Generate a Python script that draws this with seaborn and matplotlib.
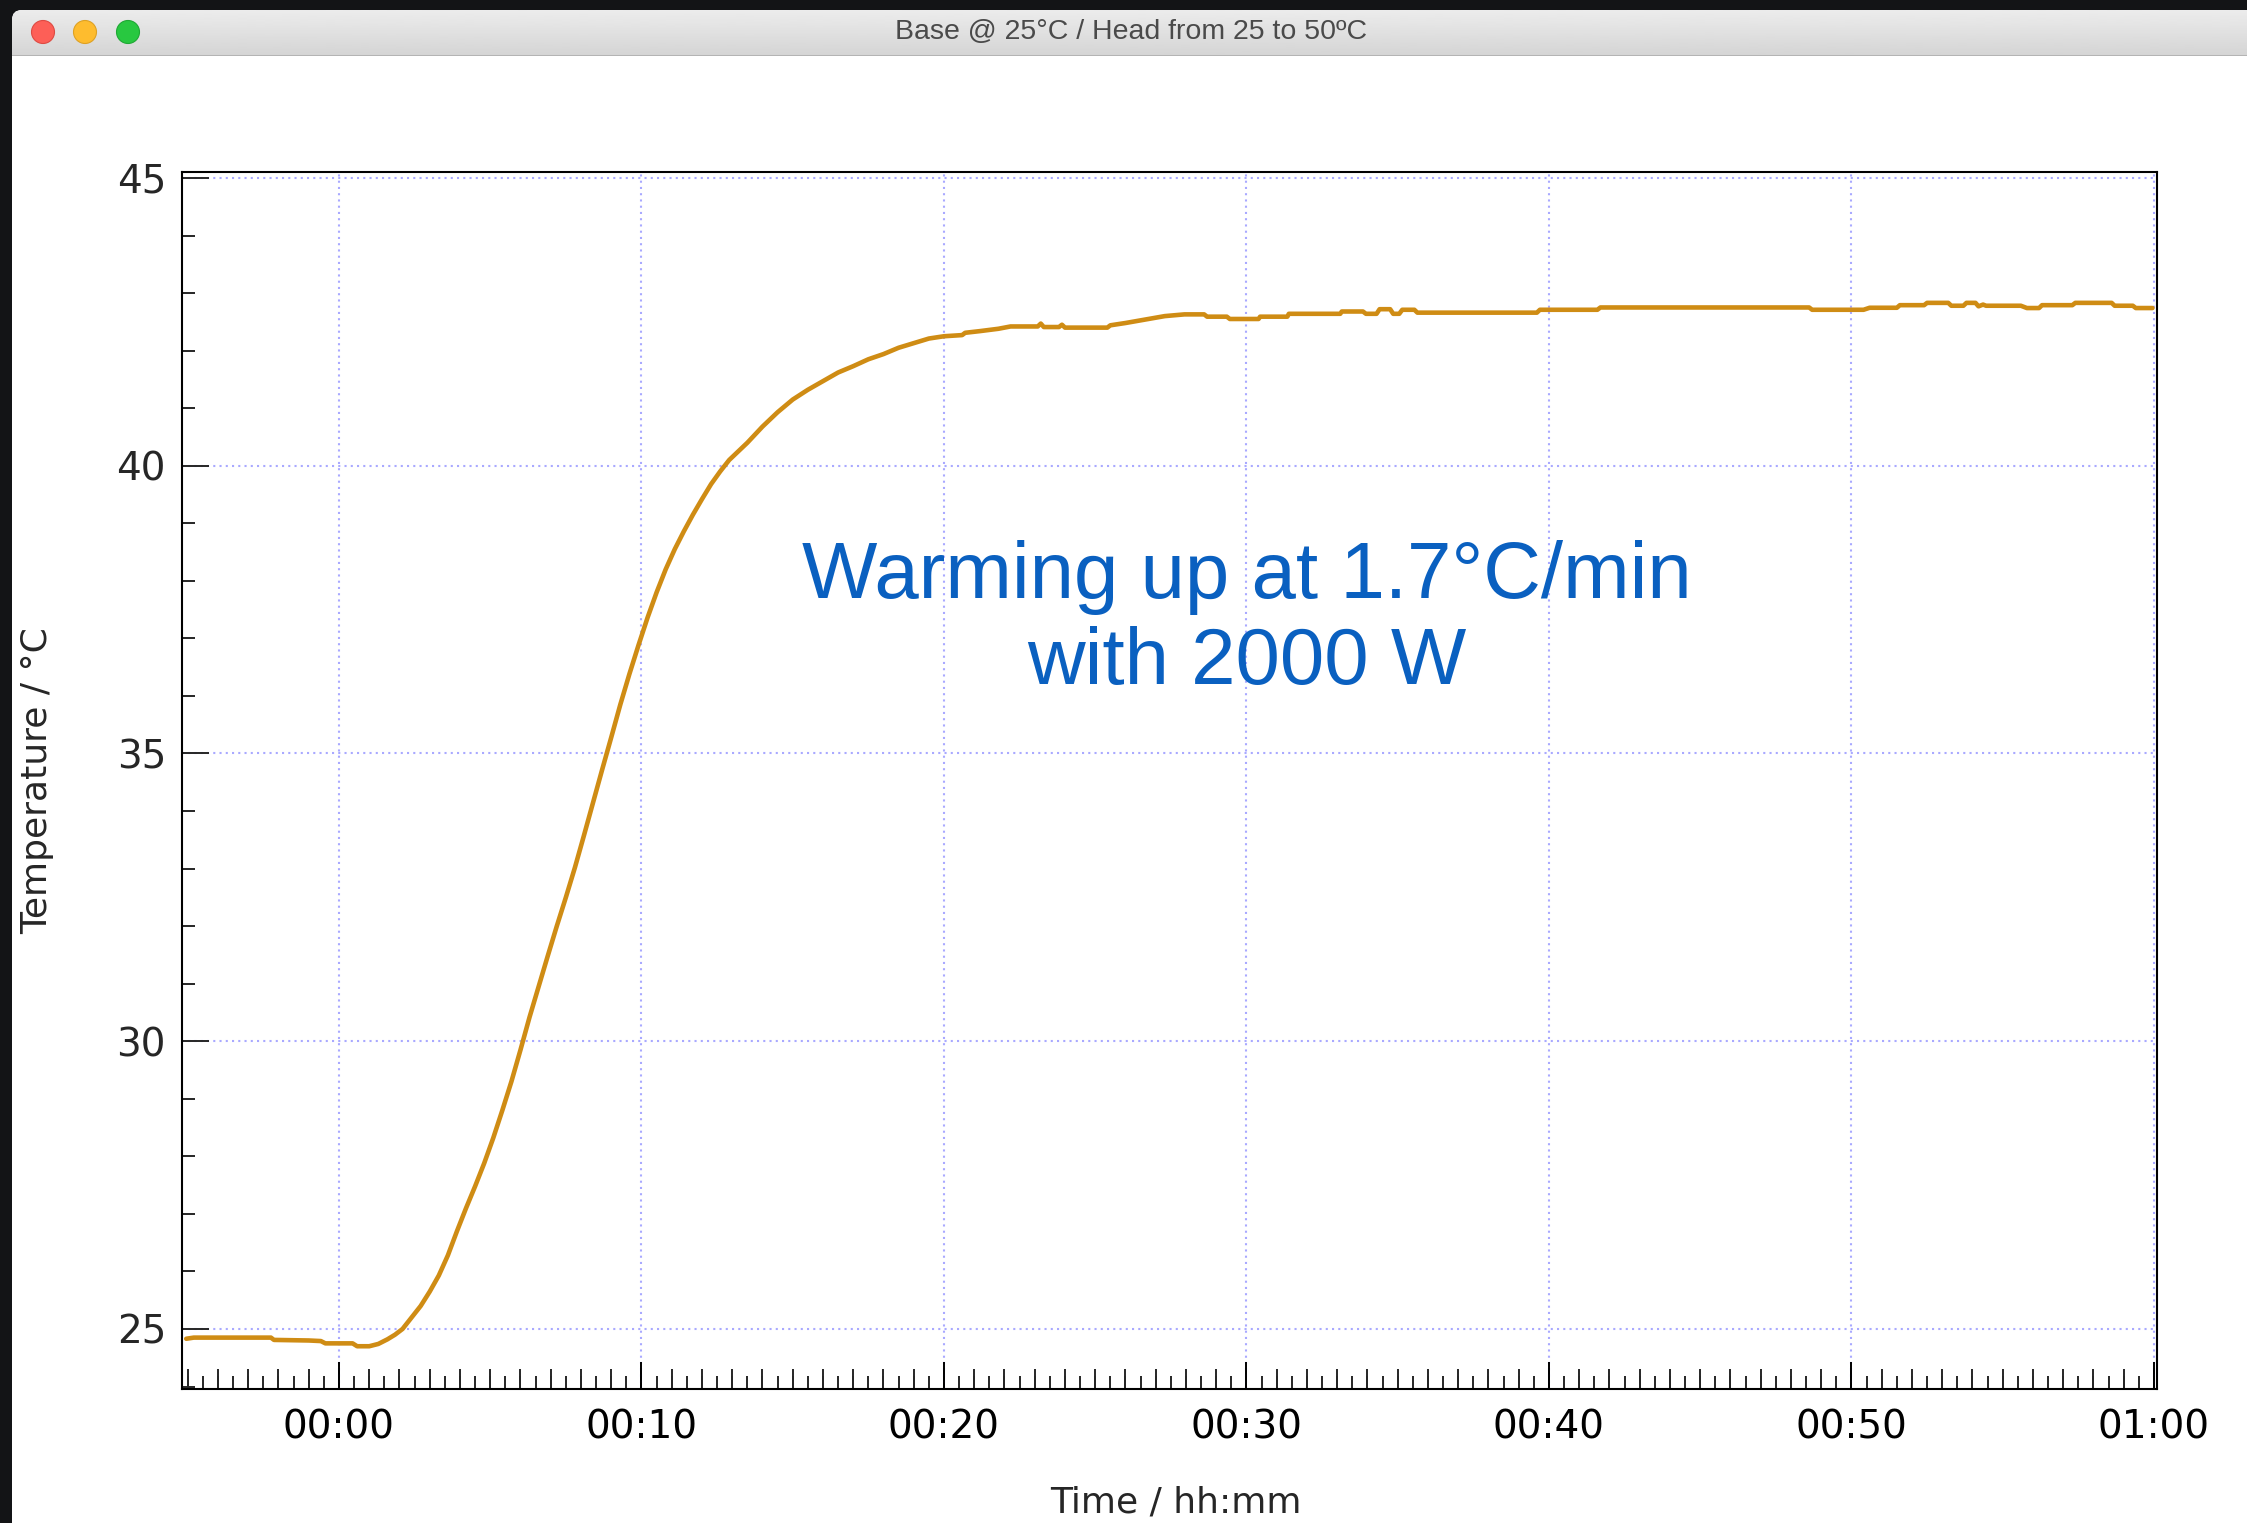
import numpy as np
import pandas as pd
import matplotlib
matplotlib.use("Agg")
import matplotlib.pyplot as plt
import seaborn as sns
from matplotlib.patches import FancyBboxPatch, Circle, Rectangle
from matplotlib.transforms import IdentityTransform
from matplotlib.ticker import MultipleLocator, FuncFormatter, NullFormatter, NullLocator

# ---------------- data (minutes, °C) ----------------
time_min = [-5.05, -4.8, -3.5, -2.25, -2.15, -1.0, -0.6, -0.45, 0.45, 0.6,
            1.0, 1.3, 1.6, 1.85, 2.1, 2.4, 2.7, 3.0, 3.3, 3.6,
            3.9, 4.2, 4.5, 4.8, 5.1, 5.4, 5.7, 6.0, 6.3, 6.6,
            6.9, 7.2, 7.5, 7.8, 8.1, 8.4, 8.7, 9.0, 9.3, 9.6,
            9.9, 10.2, 10.5, 10.8, 11.1, 11.4, 11.7, 12.0, 12.3, 12.6,
            12.9, 13.2, 13.5, 14.0, 14.5, 15.0, 15.5, 16.0, 16.5, 17.0,
            17.5, 18.0, 18.5, 19.0, 19.5, 20.0, 20.6, 20.7, 21.2, 21.8,
            22.2, 23.1, 23.2, 23.3, 23.8, 23.9, 24.0, 25.4, 25.5, 26.0,
            26.55, 27.1, 27.3, 27.95, 28.6, 28.7, 29.35, 29.45, 30.4, 30.45,
            31.35, 31.4, 33.1, 33.15, 33.85, 33.95, 34.3, 34.4, 34.75, 34.85,
            35.05, 35.15, 35.55, 35.65, 39.6, 39.7, 41.6, 41.7, 48.6, 48.7,
            50.4, 50.6, 51.5, 51.6, 52.4, 52.5, 53.2,
            53.3, 53.7, 53.8, 54.1, 54.2, 54.35, 54.45, 55.6, 55.8, 56.2,
            56.3, 57.3, 57.4, 58.6, 58.7, 59.3, 59.4, 59.95]
temp_c = [24.83, 24.85, 24.85, 24.85, 24.81, 24.80, 24.79, 24.75, 24.75, 24.70,
          24.70, 24.74, 24.82, 24.90, 25.00, 25.20, 25.40, 25.65, 25.93, 26.28,
          26.70, 27.10, 27.48, 27.88, 28.32, 28.80, 29.30, 29.85, 30.42, 30.95,
          31.48, 32.00, 32.50, 33.02, 33.58, 34.15, 34.72, 35.28, 35.85, 36.38,
          36.88, 37.36, 37.80, 38.20, 38.55, 38.86, 39.15, 39.42, 39.68, 39.90,
          40.10, 40.25, 40.40, 40.68, 40.93, 41.15, 41.32, 41.47, 41.62, 41.73,
          41.85, 41.94, 42.05, 42.13, 42.21, 42.25, 42.27, 42.31, 42.34, 42.38,
          42.42, 42.42, 42.47, 42.41, 42.41, 42.45, 42.40, 42.40, 42.44, 42.48,
          42.53, 42.58, 42.60, 42.63, 42.63, 42.59, 42.59, 42.55, 42.55, 42.59,
          42.59, 42.64, 42.64, 42.68, 42.68, 42.64, 42.64, 42.72, 42.72, 42.64,
          42.64, 42.71, 42.71, 42.66, 42.66, 42.71, 42.71, 42.75, 42.75, 42.71,
          42.71, 42.745, 42.745, 42.79, 42.79, 42.83, 42.83,
          42.78, 42.78, 42.83, 42.83, 42.77, 42.80, 42.78, 42.78, 42.74, 42.74,
          42.79, 42.79, 42.83, 42.83, 42.78, 42.78, 42.74, 42.74]

window_title = "Base @ 25°C / Head from 25 to 50ºC"
x_label = "Time / hh:mm"
y_label = "Temperature / °C"
note_text = "Warming up at 1.7°C/min\nwith 2000 W"

df = pd.DataFrame({"time": time_min, "temp": temp_c})

# ---------------- figure / window chrome ----------------
sns.set_style("white")
plt.rcParams["font.family"] = ["DejaVu Sans"]

W, H = 2247, 1523
fig = plt.figure(figsize=(W / 100, H / 100), dpi=100, facecolor="#131416")

ident = IdentityTransform()
win_left, win_top, bar_bottom = 12, 10, 55
window = FancyBboxPatch((win_left, -60), W + 100, H - win_top + 60,
                        boxstyle="round,pad=0,rounding_size=10",
                        transform=ident, facecolor="white", edgecolor="none", zorder=-10)
fig.patches.append(window)

# title bar gradient
bar_ax = fig.add_axes([win_left / W, 1 - bar_bottom / H, 1 - win_left / W, (bar_bottom - win_top) / H])
bar_ax.set_axis_off()
bar_ax.set_zorder(1)
grad = np.linspace(0.925, 0.835, 64).reshape(-1, 1)
im = bar_ax.imshow(grad, cmap="gray", vmin=0, vmax=1, aspect="auto", extent=(0, 1, 0, 1))
clip = FancyBboxPatch((win_left, H - bar_bottom - 20), W + 100, bar_bottom - win_top + 20,
                      boxstyle="round,pad=0,rounding_size=10", transform=ident)
im.set_clip_path(clip)
fig.patches.append(Rectangle((win_left, H - bar_bottom - 1), W, 1.5, transform=ident,
                             facecolor="#b4b4b4", edgecolor="none", zorder=3))

for cx, fc, ec in [(43, "#fd5f57", "#de4a42"), (85, "#febc2e", "#dea123"), (128, "#28c840", "#1fa834")]:
    fig.patches.append(Circle((cx, H - 32), 11.5, transform=ident, facecolor=fc,
                              edgecolor=ec, linewidth=0.8, zorder=4))

fig.text(1131 / W, 1 - 32 / H, window_title, ha="center", va="center",
         fontsize=20.5, color="#4a4a4a", family=["Liberation Sans", "DejaVu Sans"], zorder=5)

# ---------------- plot axes ----------------
ax_l, ax_r, ax_t, ax_b = 182, 2157, 172, 1389
ax = fig.add_axes([ax_l / W, 1 - ax_b / H, (ax_r - ax_l) / W, (ax_b - ax_t) / H])
ax.set_facecolor("white")

sns.lineplot(data=df, x="time", y="temp", ax=ax, color="#cf8c14", linewidth=3.3,
             estimator=None, sort=False, zorder=3)

ax.set_xlim(-5.19, 60.1)
ax.set_ylim(23.957, 45.104)

ax.xaxis.set_major_locator(MultipleLocator(10))
ax.xaxis.set_minor_locator(MultipleLocator(0.5))
ax.yaxis.set_major_locator(MultipleLocator(5))
ax.yaxis.set_minor_locator(MultipleLocator(1))


def hhmm(v, pos):
    m = int(round(v))
    return f"{m // 60:02d}:{m % 60:02d}"


ax.xaxis.set_major_formatter(FuncFormatter(hhmm))

ax.grid(True, which="major", color="#a9a9ff", linestyle=(0, (1, 2)), linewidth=1.5)
ax.set_axisbelow(True)

for s in ax.spines.values():
    s.set_visible(True)
    s.set_color("black")
    s.set_linewidth(1.5)

ax.tick_params(axis="x", which="major", direction="in", length=19.5, width=1.4,
               bottom=True, top=False, labelsize=28, pad=14, colors="black")
ax.tick_params(axis="x", which="minor", direction="in", length=9.5, width=1.4,
               bottom=True, top=False)
ax.tick_params(axis="y", which="major", direction="in", length=19.5, width=1.4,
               left=True, right=False, labelsize=28, pad=11.5)
ax.tick_params(axis="y", which="minor", direction="in", length=9.5, width=1.4,
               left=True, right=False)

# one-minute ticks of intermediate length
sec = ax.secondary_xaxis("bottom")
sec.xaxis.set_major_locator(MultipleLocator(1))
sec.xaxis.set_major_formatter(NullFormatter())
sec.xaxis.set_minor_locator(NullLocator())
sec.tick_params(axis="x", which="major", direction="in", length=14.5, width=1.4)
sec.spines["bottom"].set_visible(False)

ax.set_xlabel(x_label, fontsize=26, va="center")
ax.xaxis.set_label_coords(0.503, -0.0935)
ax.set_ylabel(y_label, fontsize=26, va="center", ha="center")
ax.yaxis.set_label_coords(-0.0734, 0.5)

ax.text(30.02, 37.31, note_text, ha="center", va="center", multialignment="center",
        fontsize=57.5, color="#0a60c0", family=["Liberation Sans", "DejaVu Sans"],
        linespacing=1.2, zorder=4)

fig.savefig("out.png", dpi=100, facecolor=fig.get_facecolor())
